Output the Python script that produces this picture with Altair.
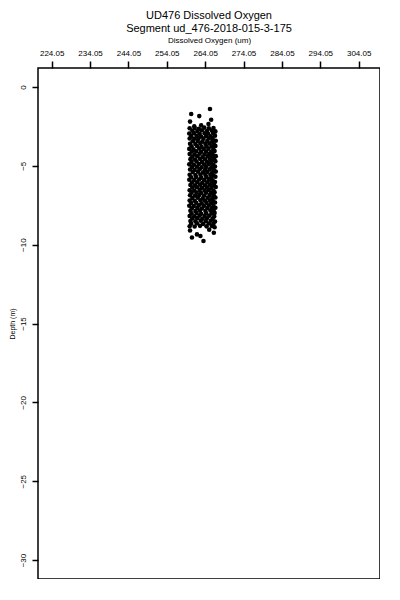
import altair as alt
import pandas as pd

# Dissolved oxygen (um) and depth (m)
oxygen = [
    265.3, 260.4, 262.5, 260.1, 265.6, 263.0, 264.9, 261.2,
    260.0, 261.3, 262.4, 263.8, 265.0, 266.2,
    260.7, 262.0, 263.2, 264.5, 265.8, 266.7,
    259.9, 261.1, 262.6, 263.9, 264.8, 266.1,
    260.4, 261.8, 263.0, 264.3, 265.5, 266.6,
    260.0, 261.2, 262.3, 263.6, 265.0, 266.0,
    260.8, 262.1, 263.3, 264.6, 265.9, 266.8,
    260.1, 261.5, 262.8, 264.1, 265.2, 266.3,
    260.5, 261.9, 263.1, 264.4, 265.7, 266.7,
    259.9, 261.0, 262.5, 263.7, 264.9, 266.2,
    260.6, 261.7, 263.0, 264.3, 265.6, 266.5,
    260.0, 261.3, 262.6, 263.9, 265.1, 266.0,
    260.7, 262.0, 263.4, 264.7, 265.8, 266.8,
    260.2, 261.4, 262.7, 264.0, 265.3, 266.4,
    260.5, 261.8, 263.2, 264.5, 265.6, 266.7,
    259.9, 261.1, 262.4, 263.8, 265.0, 266.1,
    260.6, 261.9, 263.1, 264.3, 265.7, 266.6,
    260.1, 261.3, 262.6, 264.0, 265.2, 266.3,
    260.8, 262.2, 263.5, 264.6, 265.9, 266.8,
    260.0, 261.5, 262.8, 264.1, 265.4, 266.2,
    260.4, 261.7, 263.0, 264.4, 265.6, 266.7,
    259.9, 261.2, 262.5, 263.8, 265.1, 266.0,
    260.6, 262.0, 263.3, 264.6, 265.8, 266.6,
    260.2, 261.4, 262.7, 264.0, 265.3, 266.4,
    260.7, 261.9, 263.2, 264.5, 265.7, 266.8,
    260.0, 261.2, 262.6, 263.9, 265.0, 266.2,
    260.5, 261.8, 263.0, 264.3, 265.6, 266.5,
    260.1, 261.4, 262.5, 263.8, 265.2, 266.3,
    260.7, 262.1, 263.4, 264.7, 265.9, 266.7,
    260.0, 261.3, 262.8, 264.0, 265.3, 266.1,
    260.4, 261.7, 263.1, 264.4, 265.6, 266.6,
    259.9, 261.1, 262.4, 263.7, 265.0, 266.2,
    260.6, 262.0, 263.2, 264.6, 265.8, 266.7,
    260.2, 261.5, 262.7, 264.1, 265.4, 266.3,
    260.5, 261.8, 263.0, 264.3, 265.7, 266.5,
    260.0, 261.2, 262.6, 263.9, 265.1, 266.4,
    260.7, 262.0, 263.3, 264.5, 266.0,
    260.2, 261.5, 262.9, 264.2, 265.5, 266.6,
    260.4, 261.9, 263.5, 265.0, 266.2,
    260.0, 261.3, 262.7, 264.4, 265.8,
    260.6, 263.6, 266.3, 261.9, 265.1, 260.1, 262.8, 266.5,
]
depth = [
    -1.40, -1.72, -1.85, -2.20, -2.08, -2.44, -2.35, -2.50,
    -2.62, -2.60, -2.66, -2.58, -2.63, -2.61,
    -2.78, -2.80, -2.75, -2.79, -2.77, -2.82,
    -2.95, -2.93, -2.97, -2.94, -2.96, -2.92,
    -3.12, -3.10, -3.14, -3.11, -3.13, -3.09,
    -3.27, -3.29, -3.25, -3.28, -3.26, -3.30,
    -3.44, -3.42, -3.46, -3.43, -3.45, -3.41,
    -3.60, -3.62, -3.58, -3.61, -3.59, -3.63,
    -3.77, -3.75, -3.79, -3.76, -3.78, -3.74,
    -3.93, -3.95, -3.91, -3.94, -3.92, -3.96,
    -4.10, -4.08, -4.12, -4.09, -4.11, -4.07,
    -4.26, -4.28, -4.24, -4.27, -4.25, -4.29,
    -4.42, -4.40, -4.44, -4.41, -4.43, -4.39,
    -4.58, -4.60, -4.56, -4.59, -4.57, -4.61,
    -4.75, -4.73, -4.77, -4.74, -4.76, -4.72,
    -4.91, -4.93, -4.89, -4.92, -4.90, -4.94,
    -5.08, -5.06, -5.10, -5.07, -5.09, -5.05,
    -5.24, -5.26, -5.22, -5.25, -5.23, -5.27,
    -5.40, -5.38, -5.42, -5.39, -5.41, -5.37,
    -5.57, -5.59, -5.55, -5.58, -5.56, -5.60,
    -5.73, -5.71, -5.75, -5.72, -5.74, -5.70,
    -5.89, -5.91, -5.87, -5.90, -5.88, -5.92,
    -6.06, -6.04, -6.08, -6.05, -6.07, -6.03,
    -6.22, -6.24, -6.20, -6.23, -6.21, -6.25,
    -6.38, -6.36, -6.40, -6.37, -6.39, -6.35,
    -6.55, -6.57, -6.53, -6.56, -6.54, -6.58,
    -6.71, -6.69, -6.73, -6.70, -6.72, -6.68,
    -6.87, -6.89, -6.85, -6.88, -6.86, -6.90,
    -7.04, -7.02, -7.06, -7.03, -7.05, -7.01,
    -7.20, -7.22, -7.18, -7.21, -7.19, -7.23,
    -7.36, -7.34, -7.38, -7.35, -7.37, -7.33,
    -7.53, -7.55, -7.51, -7.54, -7.52, -7.56,
    -7.69, -7.67, -7.71, -7.68, -7.70, -7.66,
    -7.85, -7.87, -7.83, -7.86, -7.84, -7.88,
    -8.02, -8.00, -8.04, -8.01, -8.03, -7.99,
    -8.18, -8.20, -8.16, -8.19, -8.17, -8.21,
    -8.34, -8.32, -8.36, -8.33, -8.35,
    -8.50, -8.52, -8.48, -8.51, -8.49, -8.53,
    -8.67, -8.65, -8.69, -8.66, -8.68,
    -8.83, -8.85, -8.81, -8.84, -8.82,
    -9.55, -9.77, -9.25, -9.35, -9.05, -9.10, -9.45, -8.90,
]
x_ticks = [224.05, 234.05, 244.05, 254.05, 264.05, 274.05, 284.05, 294.05, 304.05]
y_ticks = [0, -5, -10, -15, -20, -25, -30]
title_lines = ["UD476 Dissolved Oxygen", "Segment ud_476-2018-015-3-175"]

df = pd.DataFrame({"oxygen": oxygen, "depth": depth})

FONT = "Liberation Sans"

chart = alt.Chart(df).mark_circle(color="black", opacity=1, size=21).encode(
    x=alt.X(
        "oxygen:Q",
        scale=alt.Scale(domain=[220.48, 309.6], nice=False, zero=False),
        axis=alt.Axis(
            orient="top", values=x_ticks, format=".2f",
            title="Dissolved Oxygen (um)", grid=False, domain=False,
            tickSize=7, tickColor="black", tickWidth=1.5,
            labelFontSize=8, titleFontSize=8, labelPadding=4, titlePadding=5,
            labelFont=FONT, titleFont=FONT, titleFontWeight="normal",
            labelColor="black", titleColor="black",
        ),
    ),
    y=alt.Y(
        "depth:Q",
        scale=alt.Scale(domain=[-31.2, 1.2], nice=False, zero=False),
        axis=alt.Axis(
            values=y_ticks, format="d", title="Depth (m)", grid=False, domain=False,
            tickSize=6, tickColor="black", tickWidth=1.5,
            labelAngle=270, labelAlign="center", labelBaseline="bottom",
            labelFontSize=8, titleFontSize=7, labelPadding=5, titlePadding=4,
            labelFont=FONT, titleFont=FONT, titleFontWeight="normal",
            labelColor="black", titleColor="black",
        ),
    ),
).properties(
    width=342,
    height=511,
    title=alt.TitleParams(
        title_lines, fontSize=11, fontWeight="normal", font=FONT,
        anchor="middle", offset=2, lineHeight=13, color="black",
    ),
    autosize=alt.AutoSizeParams(type="none"),
    padding={"left": 30, "top": 60, "right": 0, "bottom": 0},
).configure_view(stroke="black", strokeWidth=1.5)

chart.save("out.html", embed_options={"renderer": "svg", "actions": False})
